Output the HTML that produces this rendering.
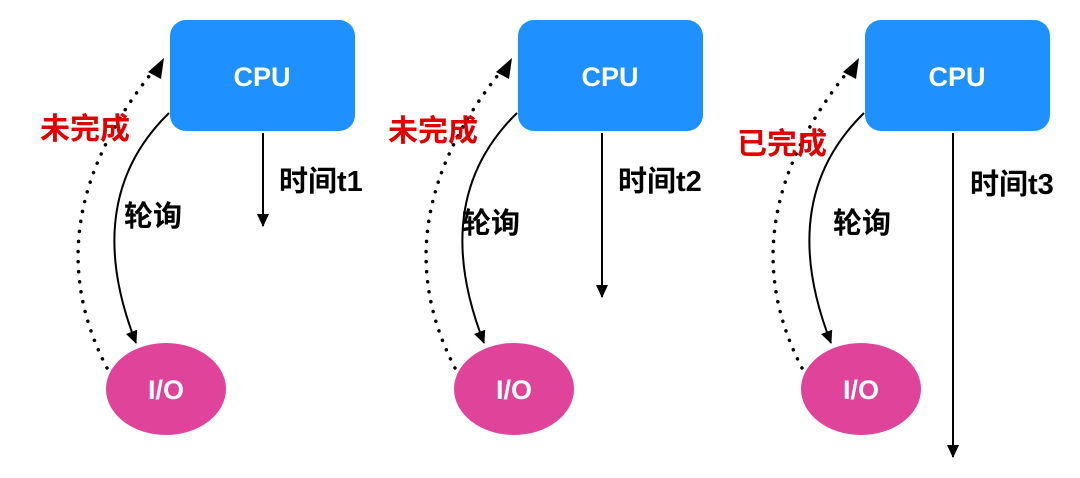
<!DOCTYPE html>
<html><head><meta charset="utf-8"><style>
body{margin:0;background:#fff;width:1080px;height:473px;overflow:hidden}
svg text{font-family:"Liberation Sans","Noto Sans CJK SC",sans-serif;font-weight:bold}
</style></head><body>
<svg width="1080" height="473" viewBox="0 0 1080 473" xmlns="http://www.w3.org/2000/svg">
<defs>
<marker id="a" markerWidth="14" markerHeight="14" refX="12" refY="6" orient="auto" markerUnits="userSpaceOnUse"><path d="M0,0 L13,6 L0,12 z" fill="#000"/></marker>
<g id="p">
<path d="M169,113 Q80,200 136,343" fill="none" stroke="#000" stroke-width="2" marker-end="url(#a)"/>
<path d="M107,368 Q30,220 158,65" fill="none" stroke="#000" stroke-width="3.5" stroke-dasharray="0.1,10" stroke-linecap="round"/>
<path d="M148,72 L164,58 L161,79 z" fill="#000"/>
<rect x="170" y="20" width="185" height="111" rx="16" fill="#1E90FF"/>
<text x="262" y="86" font-size="27" fill="#fff" text-anchor="middle" font-weight="normal">CPU</text>
<ellipse cx="166" cy="389" rx="60" ry="46" fill="#E0449A"/>
<text x="166" y="399" font-size="27" fill="#fff" text-anchor="middle" font-weight="normal">I/O</text>
</g>
</defs>
<use href="#p"/>
<use href="#p" x="348"/>
<use href="#p" x="695"/>
<line x1="263" y1="133" x2="263" y2="226" stroke="#000" stroke-width="2" marker-end="url(#a)"/>
<line x1="602" y1="133" x2="602" y2="297" stroke="#000" stroke-width="2" marker-end="url(#a)"/>
<line x1="953" y1="133" x2="953" y2="457" stroke="#000" stroke-width="2" marker-end="url(#a)"/>
<g font-size="29">
<text x="40" y="139" fill="#E00000" font-size="30">未完成</text>
<text x="124" y="226" fill="#000">轮询</text>
<text x="279" y="191" fill="#000">时间t1</text>
<text x="388" y="141" fill="#E00000" font-size="30">未完成</text>
<text x="462" y="233" fill="#000">轮询</text>
<text x="618" y="191" fill="#000">时间t2</text>
<text x="737" y="154" fill="#E00000" font-size="30">已完成</text>
<text x="833" y="233" fill="#000">轮询</text>
<text x="970" y="194" fill="#000">时间t3</text>
</g>
</svg>
</body></html>
